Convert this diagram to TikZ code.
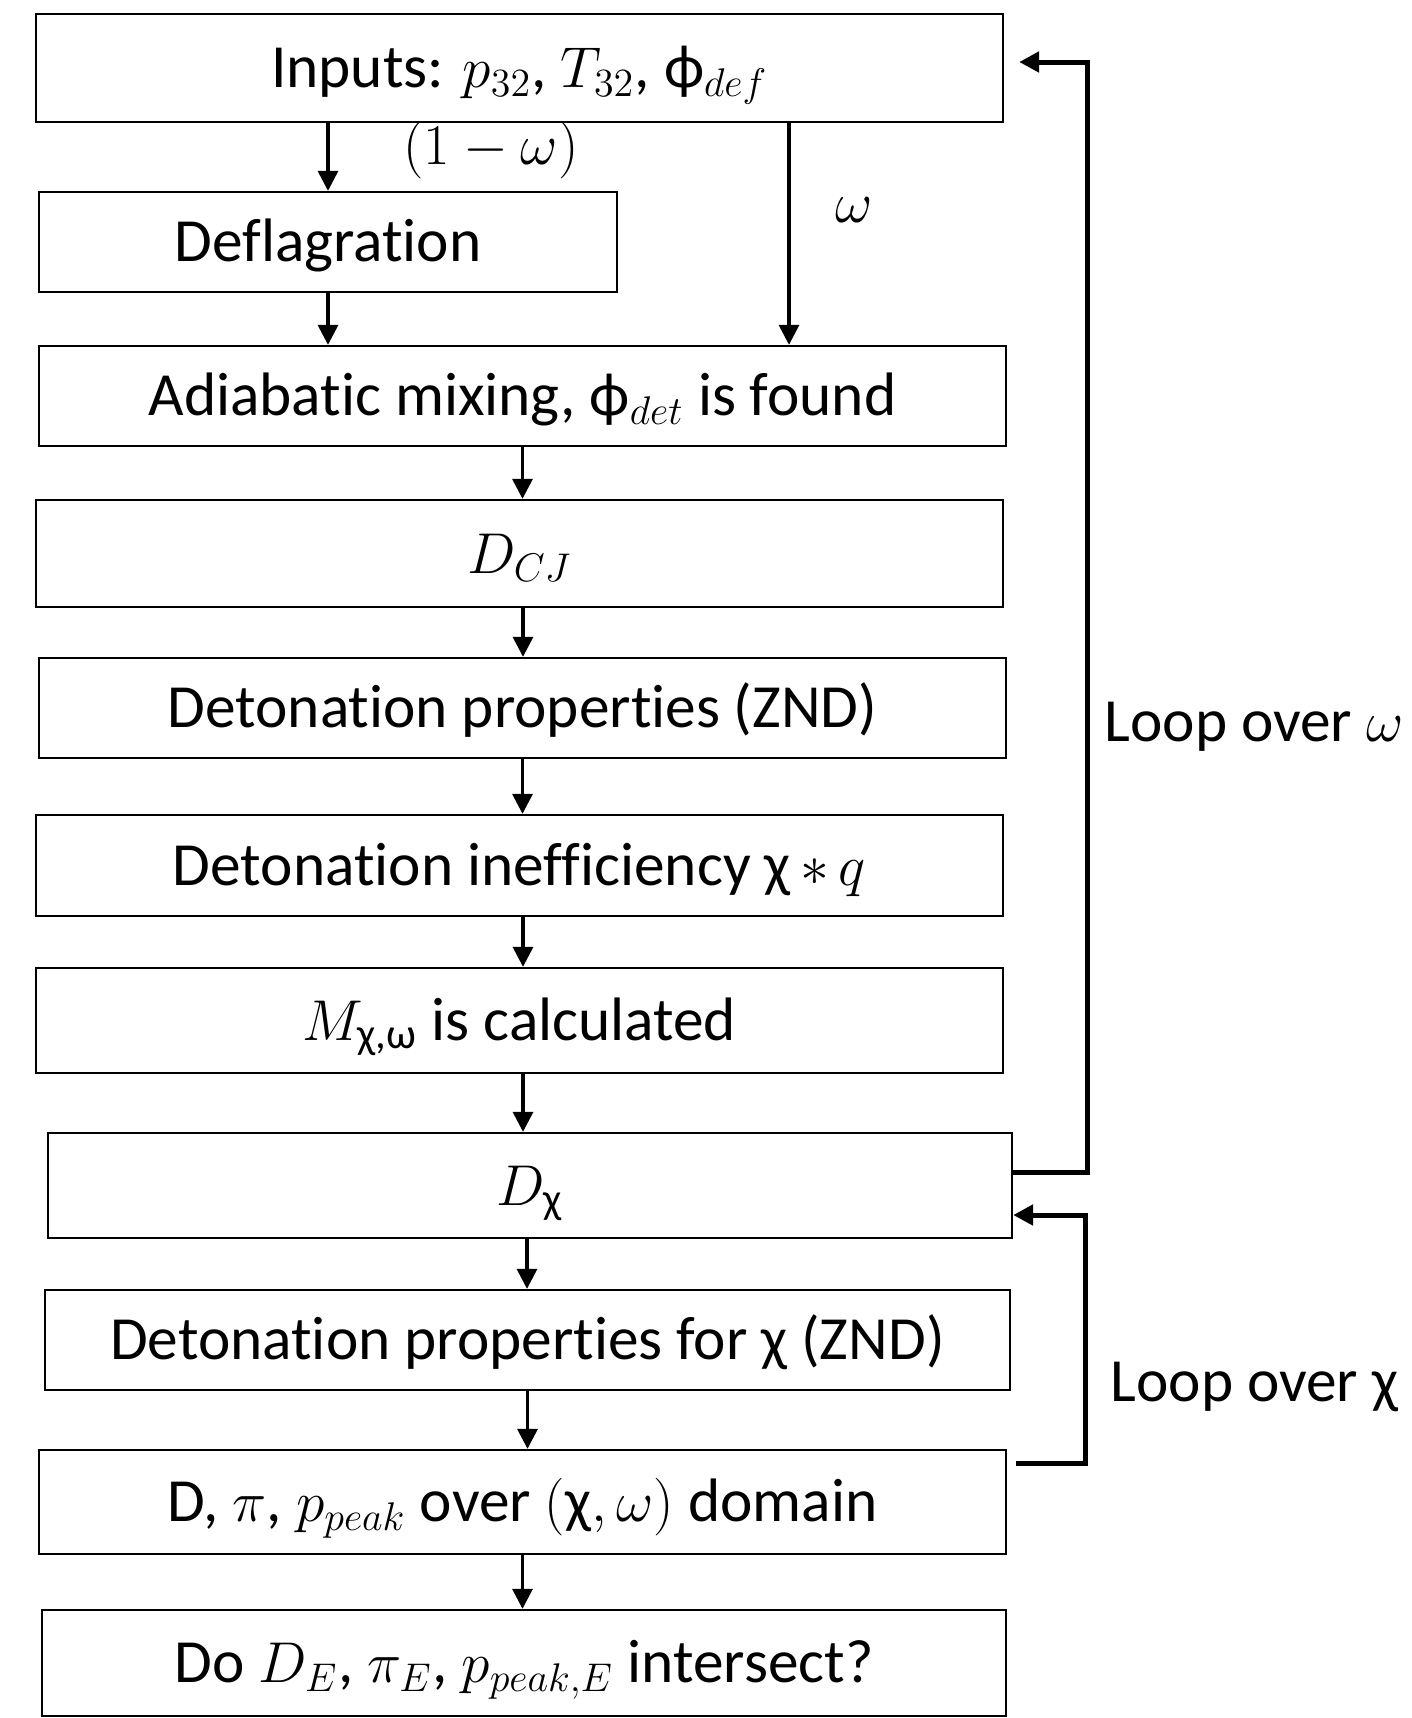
\documentclass[tikz,border=0pt]{standalone}
\usepackage{amsmath}
\usepackage{fontspec}
\setmainfont{Carlito}[Ligatures=NoCommon]
\usetikzlibrary{arrows.meta}
\begin{document}
\begin{tikzpicture}[x=0.3pt,y=-0.3pt,
  every node/.style={font=\fontsize{18.4}{22}\selectfont},
  box/.style={draw, line width=0.7pt, inner sep=0pt, text height=11.8pt, text depth=0pt, anchor=center},
  arr/.style={line width=1pt, -{Triangle[length=6pt,width=6pt]}},
  loopl/.style={line width=1.5pt, line join=miter},
  looparr/.style={loopl, -{Triangle[length=6pt,width=6pt]}},
  lbl/.style={inner sep=0pt, text height=11.8pt, text depth=0pt},
  mlbl/.style={inner sep=0pt}
]
\useasboundingbox (0,0) rectangle (1412,1718);

\node[box, minimum width=290.1pt, minimum height=32.4pt] (inp) at (519.5,68) {Inputs: $p_{32}$, $T_{32}$, ϕ$_{def}$};
\node[box, minimum width=173.4pt, minimum height=30pt] (defl) at (328,242) {Deflagration};
\node[box, minimum width=290.1pt, minimum height=30pt] (adi) at (522.5,396) {Adiabatic mixing, ϕ$_{det}$ is found};
\node[box, minimum width=290.1pt, minimum height=32.1pt] (dcj) at (519.5,553.5) {$D_{CJ}$};
\node[box, minimum width=290.1pt, minimum height=30pt] (dprop) at (522.5,708) {Detonation properties (ZND)};
\node[box, minimum width=290.1pt, minimum height=30.3pt] (ineff) at (519.5,865.5) {Detonation inefficiency χ$\,\ast\,q$};
\node[box, minimum width=290.1pt, minimum height=31.5pt] (mcal) at (519.5,1020.5) {$M_{\text{χ,ω}}$ is calculated};
\node[box, minimum width=289.2pt, minimum height=31.5pt] (dchi) at (530,1185.5) {$D_{\text{χ}}$};
\node[box, minimum width=289.5pt, minimum height=30pt] (dpchi) at (527.5,1340) {Detonation properties for χ (ZND)};
\node[box, minimum width=290.1pt, minimum height=31.2pt] (dpi) at (522.5,1502) {D, $\pi$, $p_{peak}$ over $(\text{χ}, \omega)$ domain};
\node[box, minimum width=289.2pt, minimum height=31.8pt] (doint) at (524,1663) {Do $D_E$, $\pi_E$, $p_{peak,E}$ intersect?};

\node[mlbl] (lom) at (491,150) {$(1-\omega)$};
\node[mlbl] (lw) at (854,210) {$\omega$};
\node[lbl, anchor=west] (loopw) at (1104,722) {Loop over $\omega$};
\node[lbl, anchor=west] (loopc) at (1110,1382) {Loop over χ};

\coordinate (w) at (789,0);
\draw[arr] (inp.south -| defl.north) -- (defl.north);
\draw[arr] (inp.south -| w) -- (adi.north -| w);
\draw[arr] (defl.south) -- (defl.south |- adi.north);
\draw[arr] (adi.south) -- (adi.south |- dcj.north);
\draw[arr] (dcj.south) ++(3.5,0) coordinate (c4) -- (c4 |- dprop.north);
\draw[arr] (dprop.south) -- (dprop.south |- ineff.north);
\draw[arr] (ineff.south) ++(3.5,0) coordinate (c6) -- (c6 |- mcal.north);
\draw[arr] (mcal.south) ++(3.5,0) coordinate (c7) -- (c7 |- dchi.north);
\draw[arr] (dchi.south) ++(-3,0) coordinate (c8) -- (c8 |- dpchi.north);
\draw[arr] (dpchi.south) -- (dpchi.south |- dpi.north);
\draw[arr] (dpi.south) -- (dpi.south |- doint.north);

\coordinate (wA) at (1087,1172);
\coordinate (wB) at (1087,62);
\draw[looparr] (dchi.east |- wA) -- (wA) -- (wB) -- ([xshift=4.5pt]inp.east |- wB);

\coordinate (cA) at (1085,1463);
\coordinate (cB) at (1085,1215);
\draw[looparr] ([xshift=2.7pt]dpi.east |- cA) -- (cA) -- (cB) -- (dchi.east |- cB);
\end{tikzpicture}
\end{document}
